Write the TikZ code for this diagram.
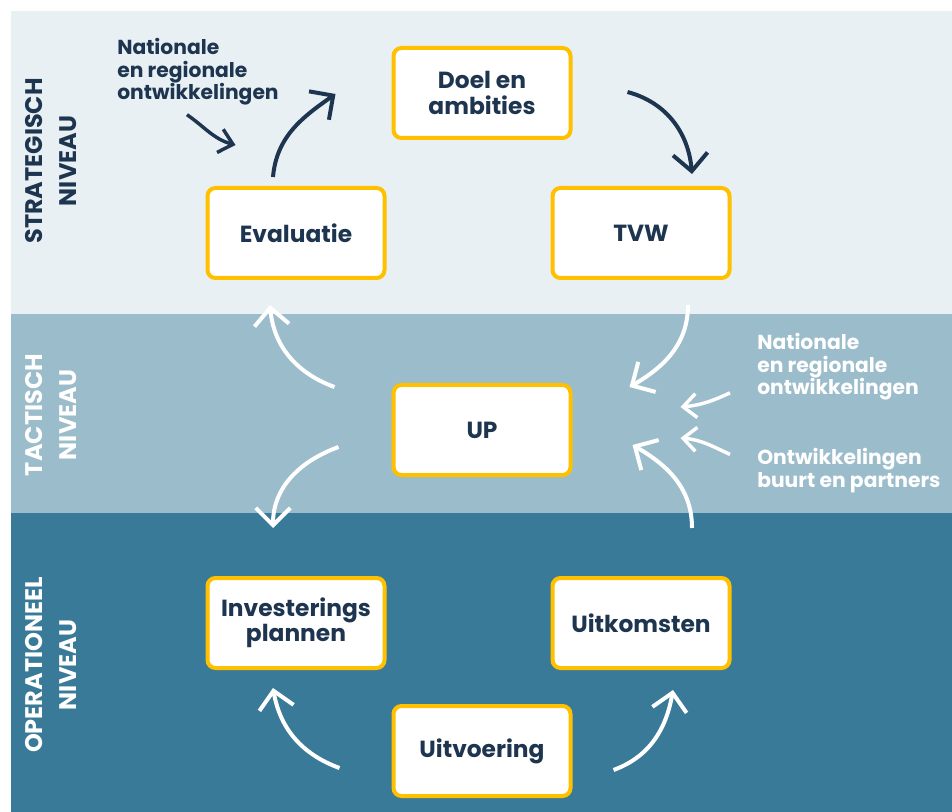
\documentclass[tikz,border=0pt]{standalone}
\usepackage{fontspec}
\setmainfont{Poppins}
\usetikzlibrary{arrows.meta, positioning, calc}

\definecolor{navy}{HTML}{1E3550}
\definecolor{goud}{HTML}{FFC000}
\definecolor{strat}{HTML}{E8F0F4}
\definecolor{tact}{HTML}{9BBCCB}
\definecolor{oper}{HTML}{3A7A99}

\begin{document}
\begin{tikzpicture} [x=0.75pt, y=0.75pt, on grid,
        box/.style = {draw=goud, line width=3pt, fill=white, rounded corners=6pt,
            minimum width=132.75pt, minimum height=67.5pt, align=center,
            text=navy, font=\fontsize{17.5}{19}\selectfont\bfseries},
        niveau/.style = {rotate=90, align=center, font=\fontsize{18}{26}\selectfont\bfseries},
        extern/.style = {anchor=north west, align=left, inner sep=0pt,
            font=\fontsize{15.2}{17}\selectfont\bfseries},
        pijl/.style = {-{Straight Barb[length=13pt,width=26pt]}, line width=3pt},
        invloed/.style = {-{Straight Barb[length=10pt,width=18pt]}, line width=2.6pt}]
        \useasboundingbox (0,0) rectangle (952,-812);
        \fill [strat] (11,-11) rectangle (952,-314);
        \fill [tact] (11,-314) rectangle (952,-513);
        \fill [oper] (11,-513) rectangle (952,-812);

        \node (strategisch) [niveau, text=navy] at (51,-161) {STRATEGISCH\\NIVEAU};
        \node (tactisch) [niveau, text=white] at (51,-415) {TACTISCH\\NIVEAU};
        \node (operationeel) [niveau, text=white] at (51,-665) {OPERATIONEEL\\NIVEAU};

        \node (doel) [box] at (482,-93) {Doel en\\ambities};
        \node (eval) [box, below left = 105pt and 139.5pt of doel] {Evaluatie};
        \node (tvw) [box, right = 258.75pt of eval] {TVW};
        \node (up) [box, below = 252.75pt of doel] {UP};
        \node (inv) [box, below = 292.5pt of eval] {Investerings\\plannen};
        \node (uitk) [box, below = 292.5pt of tvw] {Uitkomsten};
        \node (uitv) [box, below = 240.75pt of up] {Uitvoering};

        \node (natl) [extern, text=navy] at (117,-38) {Nationale\\en regionale\\ontwikkelingen};
        \node (nat2) [extern, text=white] at (757,-333) {Nationale\\en regionale\\ontwikkelingen};
        \node (buurt) [extern, text=white] at (757,-448) {Ontwikkelingen\\buurt en partners};

        \draw [pijl, navy] ($(eval.north)+(-23,9)$) to [out=85, in=215] ($(doel.west)+(-56,-1)$);
        \draw [pijl, navy] ($(doel.east)+(55,1)$) to [out=-15, in=95] ($(tvw.north)+(51,12)$);
        \draw [pijl, white] ($(tvw.south)+(47,-25)$) to [out=-90, in=30] ($(up.east)+(57,43)$);
        \draw [pijl, white] ($(up.west)+(-57,43)$) to [out=160, in=-85] ($(eval.south)+(-26,-25)$);
        \draw [pijl, white] ($(up.west)+(-53,-17)$) to [out=200, in=90] ($(inv.north)+(-23,48)$);
        \draw [pijl, white] ($(uitk.north)+(51,48)$) to [out=90, in=-30] ($(up.east)+(60,-15)$);
        \draw [pijl, white] ($(uitv.west)+(-52,-17)$) to [out=160, in=-80] ($(inv.south)+(-23,-18)$);
        \draw [pijl, white] ($(uitv.east)+(41,-19)$) to [out=20, in=-100] ($(uitk.south)+(32,-20)$);

        \draw [invloed, navy] ($(natl.south)+(-11,-9)$) to [out=-35, in=165] ($(eval.north west)+(30,41)$);
        \draw [invloed, white] ($(nat2.west)+(-27,-26)$) to [out=205, in=5] ($(up.east)+(108,23)$);
        \draw [invloed, white] ($(buurt.west)+(-27,16)$) to [out=155, in=-5] ($(up.east)+(108,-8)$);
    \end{tikzpicture}
\end{document}
